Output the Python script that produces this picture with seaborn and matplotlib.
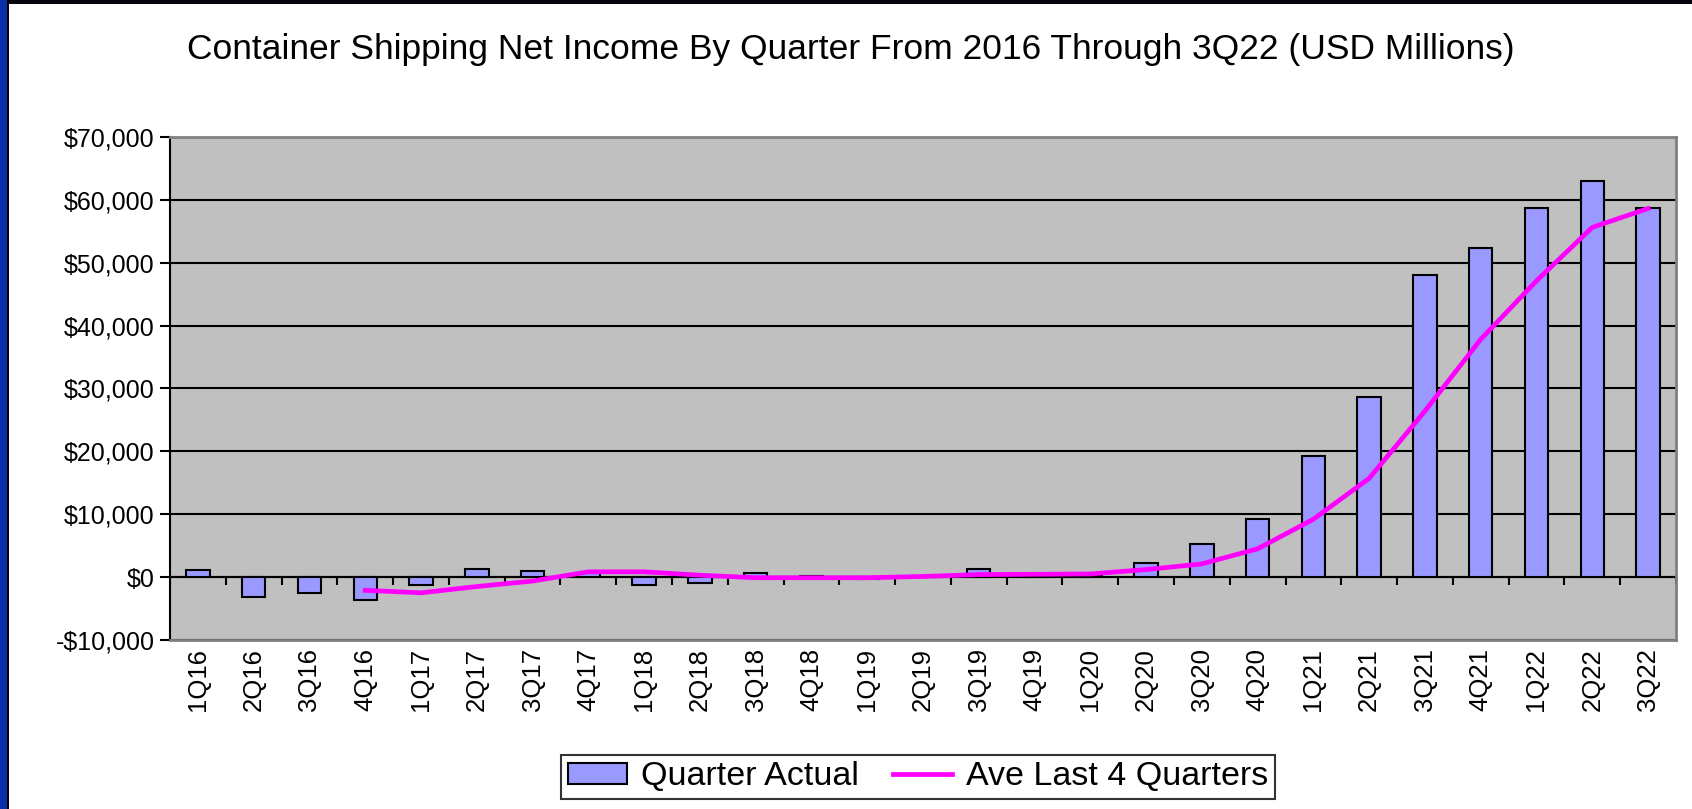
import numpy as np
import pandas as pd
import matplotlib
matplotlib.use('Agg')
import matplotlib.pyplot as plt
import seaborn as sns
from matplotlib.ticker import FuncFormatter, MultipleLocator
from matplotlib.patches import Rectangle

# quarters and values (USD millions)
quarters = ['1Q16', '2Q16', '3Q16', '4Q16', '1Q17', '2Q17', '3Q17', '4Q17', '1Q18',
            '2Q18', '3Q18', '4Q18', '1Q19', '2Q19', '3Q19', '4Q19', '1Q20', '2Q20',
            '3Q20', '4Q20', '1Q21', '2Q21', '3Q21', '4Q21', '1Q22', '2Q22', '3Q22']
quarter_actual = [1100, -3100, -2500, -3600, -1300, 1300, 950, 600, -1300,
                  -1000, 630, 100, -300, 100, 1260, 300, 200, 2200,
                  5300, 9200, 19200, 28700, 48100, 52400, 58700, 63000, 58700]
# 4-quarter average starts at 4Q16
ave_quarters = quarters[3:]
ave_last4 = [-2100, -2500, -1500, -630, 840, 840, 300, -100, -100,
             -100, 100, 400, 450, 500, 1200, 2100, 4500, 9200,
             15700, 26400, 37800, 47100, 55600, 58600]

df = pd.DataFrame({'quarter': quarters, 'actual': quarter_actual})
df_ave = pd.DataFrame({'pos': [quarters.index(q) for q in ave_quarters], 'ave': ave_last4})

plt.rcParams['font.family'] = ['Liberation Sans', 'DejaVu Sans']

fig = plt.figure(figsize=(16.92, 8.09), dpi=100)
ax = fig.add_axes([0.1005, 0.2089, 0.89, 0.622])
ax.set_facecolor('#C0C0C0')

sns.barplot(data=df, x='quarter', y='actual', color='#9999FF', saturation=1,
            edgecolor='black', linewidth=1.5, width=0.42, ax=ax, zorder=3)
sns.lineplot(data=df_ave, x='pos', y='ave', color='#FF00FF', linewidth=3.4, ax=ax, zorder=4)

ax.set_xlim(-0.5, len(quarters) - 0.5)
ax.set_ylim(-10000, 70000)
ax.yaxis.set_major_locator(MultipleLocator(10000))
ax.yaxis.set_major_formatter(FuncFormatter(lambda v, p: ('-$' if v < 0 else '$') + f'{abs(v):,.0f}'))
ax.yaxis.grid(True, color='black', linewidth=1.5)
ax.set_axisbelow(True)

# category axis sits at zero, with ticks between categories
ax.axhline(0, color='black', linewidth=1.5, zorder=2)
ax.vlines(np.arange(-0.5, len(quarters)), -1250, 0, color='black', linewidth=1.5, zorder=2)

ax.set_xticks(range(len(quarters)))
ax.set_xticklabels(quarters, rotation=90, fontsize=18.5)
ax.tick_params(axis='x', length=0, pad=6)
ax.tick_params(axis='y', labelsize=18, length=7, width=1.5, pad=4, color='black')
ax.set_xlabel('')
ax.set_ylabel('')

ax.spines['left'].set_color('black')
ax.spines['left'].set_linewidth(1.5)
for s in ['top', 'right', 'bottom']:
    ax.spines[s].set_color('#808080')
    ax.spines[s].set_linewidth(2)

fig.text(0.503, 0.939, 'Container Shipping Net Income By Quarter From 2016 Through 3Q22 (USD Millions)',
         ha='center', va='center', fontsize=25.5)

handles = [Rectangle((0, 0), 1, 1, facecolor='#9999FF', edgecolor='black', linewidth=1.5),
           plt.Line2D([], [], color='#FF00FF', linewidth=3.4)]
leg = fig.legend(handles, ['Quarter Actual', 'Ave Last 4 Quarters'], loc='center',
                 bbox_to_anchor=(0.5426, 0.0396), ncol=2, fontsize=24.5, frameon=True,
                 fancybox=False, edgecolor='black', handlelength=1.75, handleheight=0.6,
                 handletextpad=0.4, columnspacing=1.0, borderpad=0.2)
leg.get_frame().set_linewidth(1.5)

# slide frame: dark band on top, blue strip on the left
fig.patches.append(Rectangle((0, 1 - 4 / 809), 1, 4 / 809, transform=fig.transFigure,
                             facecolor='#050510', edgecolor='none'))
fig.patches.append(Rectangle((0, 0), 7 / 1692, 1, transform=fig.transFigure,
                             facecolor='#0A2FA8', edgecolor='none'))
fig.patches.append(Rectangle((7 / 1692, 0), 1.5 / 1692, 1, transform=fig.transFigure,
                             facecolor='black', edgecolor='none'))

fig.savefig('out.png', dpi=100)
